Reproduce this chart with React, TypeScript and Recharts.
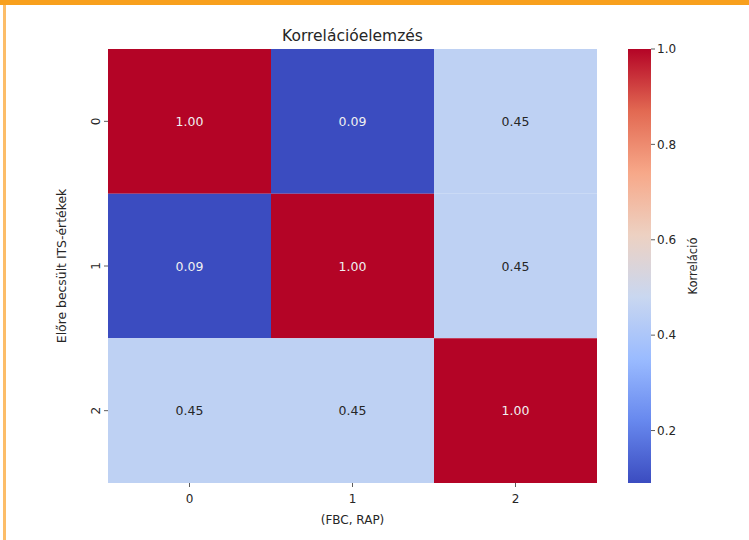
import React from 'react';
import { BarChart, Bar, XAxis, YAxis, Cell, LabelList, Label } from 'recharts';

// ---- data ----
const columnLabels = ['0', '1', '2'];
const rowLabels = ['0', '1', '2'];
const corrRow0 = [1.0, 0.09, 0.45];
const corrRow1 = [0.09, 1.0, 0.45];
const corrRow2 = [0.45, 0.45, 1.0];
const corrRows = [corrRow0, corrRow1, corrRow2];
const rowTickPositions = [0.5, 1.5, 2.5];
const colorbarTicks = [0.2, 0.4, 0.6, 0.8, 1.0];
const colorMin = 0.09;
const colorMax = 1.0;

const title = 'Korrelációelemzés';
const xLabel = '(FBC, RAP)';
const yLabel = 'Előre becsült ITS-értékek';
const colorbarLabel = 'Korreláció';

// coolwarm colormap stops
const coolwarmStops: [number, string][] = [
  [0.0, '#3b4cc0'],
  [1 / 7, '#6788ee'],
  [2 / 7, '#9abbff'],
  [3 / 7, '#c9d7f0'],
  [4 / 7, '#edd1c2'],
  [5 / 7, '#f7a889'],
  [6 / 7, '#e26952'],
  [1.0, '#b40426'],
];

function hexToRgb(h: string) {
  return [parseInt(h.slice(1, 3), 16), parseInt(h.slice(3, 5), 16), parseInt(h.slice(5, 7), 16)];
}
function coolwarm(t: number) {
  const tt = Math.max(0, Math.min(1, t));
  for (let i = 0; i < coolwarmStops.length - 1; i++) {
    const [t0, c0] = coolwarmStops[i];
    const [t1, c1] = coolwarmStops[i + 1];
    if (tt <= t1) {
      const f = (tt - t0) / (t1 - t0);
      const a = hexToRgb(c0);
      const b = hexToRgb(c1);
      const m = a.map((v, k) => Math.round(v + (b[k] - v) * f));
      return `rgb(${m[0]},${m[1]},${m[2]})`;
    }
  }
  return coolwarmStops[coolwarmStops.length - 1][1];
}
const norm = (v: number) => (v - colorMin) / (colorMax - colorMin);

// data table for the stacked "cell" bars: one entry per column
const heatData = columnLabels.map((c, j) => {
  const entry: any = { col: c };
  rowLabels.forEach((_, i) => {
    entry['r' + i] = 1;
    entry['c' + i] = corrRows[i][j];
  });
  return entry;
});

const colorbarData = [{ name: 'cb', range: [colorMin, colorMax] }];

const FONT = '"DejaVu Sans", sans-serif';
const TEXT = '#262626';

const annotation = (props: any) => {
  const { x, y, width, height, value } = props;
  const dark = value > 0.8 || value < 0.2;
  return (
    <text
      x={x + width / 2}
      y={y + height / 2}
      textAnchor="middle"
      dominantBaseline="central"
      fontSize={12.5}
      fontFamily={FONT}
      fill={dark ? '#f0f0f0' : TEXT}
    >
      {Number(value).toFixed(2)}
    </text>
  );
};

const YTick = (props: any) => {
  const { x, y, payload } = props;
  const idx = rowTickPositions.indexOf(payload.value);
  return (
    <text
      x={x - 2}
      y={y}
      transform={`rotate(-90 ${x - 2} ${y})`}
      textAnchor="middle"
      fontSize={12}
      fontFamily={FONT}
      fill={TEXT}
    >
      {rowLabels[idx]}
    </text>
  );
};

const XTick = (props: any) => {
  const { x, y, payload } = props;
  return (
    <text x={x} y={y + 14} textAnchor="middle" fontSize={12} fontFamily={FONT} fill={TEXT}>
      {payload.value}
    </text>
  );
};

export default function App() {
  return (
    <div style={{ position: 'absolute', left: 0, top: 0, width: 749, height: 540, background: '#ffffff', overflow: 'hidden' }}>
      <div style={{ position: 'absolute', left: 0, top: 0, width: 749, height: 5, background: '#f8a01d' }} />
      <div style={{ position: 'absolute', left: 3, top: 5, width: 3, height: 535, background: '#fcbd68' }} />
      <div style={{ position: 'absolute', left: 0, top: 0 }}>
        <BarChart
          width={749}
          height={540}
          data={heatData}
          margin={{ top: 49, right: 152, bottom: 17, left: 68 }}
          barCategoryGap={0}
          barGap={0}
        >
          <text x={352.5} y={41} textAnchor="middle" fontSize={15.5} fontFamily={FONT} fill={TEXT}>
            {title}
          </text>
          <XAxis
            dataKey="col"
            height={40}
            axisLine={false}
            tickSize={4}
            tickLine={{ stroke: '#333333', strokeWidth: 0.8 }}
            tick={<XTick />}
            interval={0}
          >
            <Label
              content={() => (
                <text x={352.5} y={524} textAnchor="middle" fontSize={12} fontFamily={FONT} fill={TEXT}>
                  {xLabel}
                </text>
              )}
            />
          </XAxis>
          <YAxis
            type="number"
            domain={[0, rowLabels.length]}
            reversed
            ticks={rowTickPositions}
            width={40}
            axisLine={false}
            tickSize={4}
            tickLine={{ stroke: '#333333', strokeWidth: 0.8 }}
            tick={<YTick />}
            interval={0}
          >
            <Label
              content={() => (
                <text
                  x={66}
                  y={266}
                  transform="rotate(-90 66 266)"
                  textAnchor="middle"
                  fontSize={12.4}
                  fontFamily={FONT}
                  fill={TEXT}
                >
                  {yLabel}
                </text>
              )}
            />
          </YAxis>
          {rowLabels.map((_, i) => (
            <Bar key={i} dataKey={'r' + i} stackId="cells" isAnimationActive={false} stroke="none">
              {heatData.map((d, j) => (
                <Cell key={j} fill={coolwarm(norm(d['c' + i]))} />
              ))}
              <LabelList dataKey={'c' + i} content={annotation} />
            </Bar>
          ))}
        </BarChart>
      </div>
      <div style={{ position: 'absolute', left: 0, top: 0 }}>
        <BarChart
          width={749}
          height={540}
          data={colorbarData}
          margin={{ top: 49, right: 58, bottom: 57, left: 628 }}
          barCategoryGap={0}
          barGap={0}
        >
          <defs>
            <linearGradient id="coolwarmGrad" x1="0" y1="1" x2="0" y2="0">
              {coolwarmStops.map(([t, c], i) => (
                <stop key={i} offset={`${t * 100}%`} stopColor={c} />
              ))}
            </linearGradient>
          </defs>
          <XAxis dataKey="name" hide />
          <YAxis
            orientation="right"
            type="number"
            domain={[colorMin, colorMax]}
            ticks={colorbarTicks}
            allowDataOverflow
            width={40}
            axisLine={false}
            tickSize={4}
            tickLine={{ stroke: '#333333', strokeWidth: 0.8 }}
            tick={{ fontSize: 12, fontFamily: FONT, fill: TEXT }}
            tickFormatter={(v: number) => v.toFixed(1)}
            interval={0}
          >
            <Label
              content={() => (
                <text
                  x={697}
                  y={266}
                  transform="rotate(-90 697 266)"
                  textAnchor="middle"
                  fontSize={11.5}
                  fontFamily={FONT}
                  fill={TEXT}
                >
                  {colorbarLabel}
                </text>
              )}
            />
          </YAxis>
          <Bar dataKey="range" fill="url(#coolwarmGrad)" isAnimationActive={false} />
        </BarChart>
      </div>
    </div>
  );
}
